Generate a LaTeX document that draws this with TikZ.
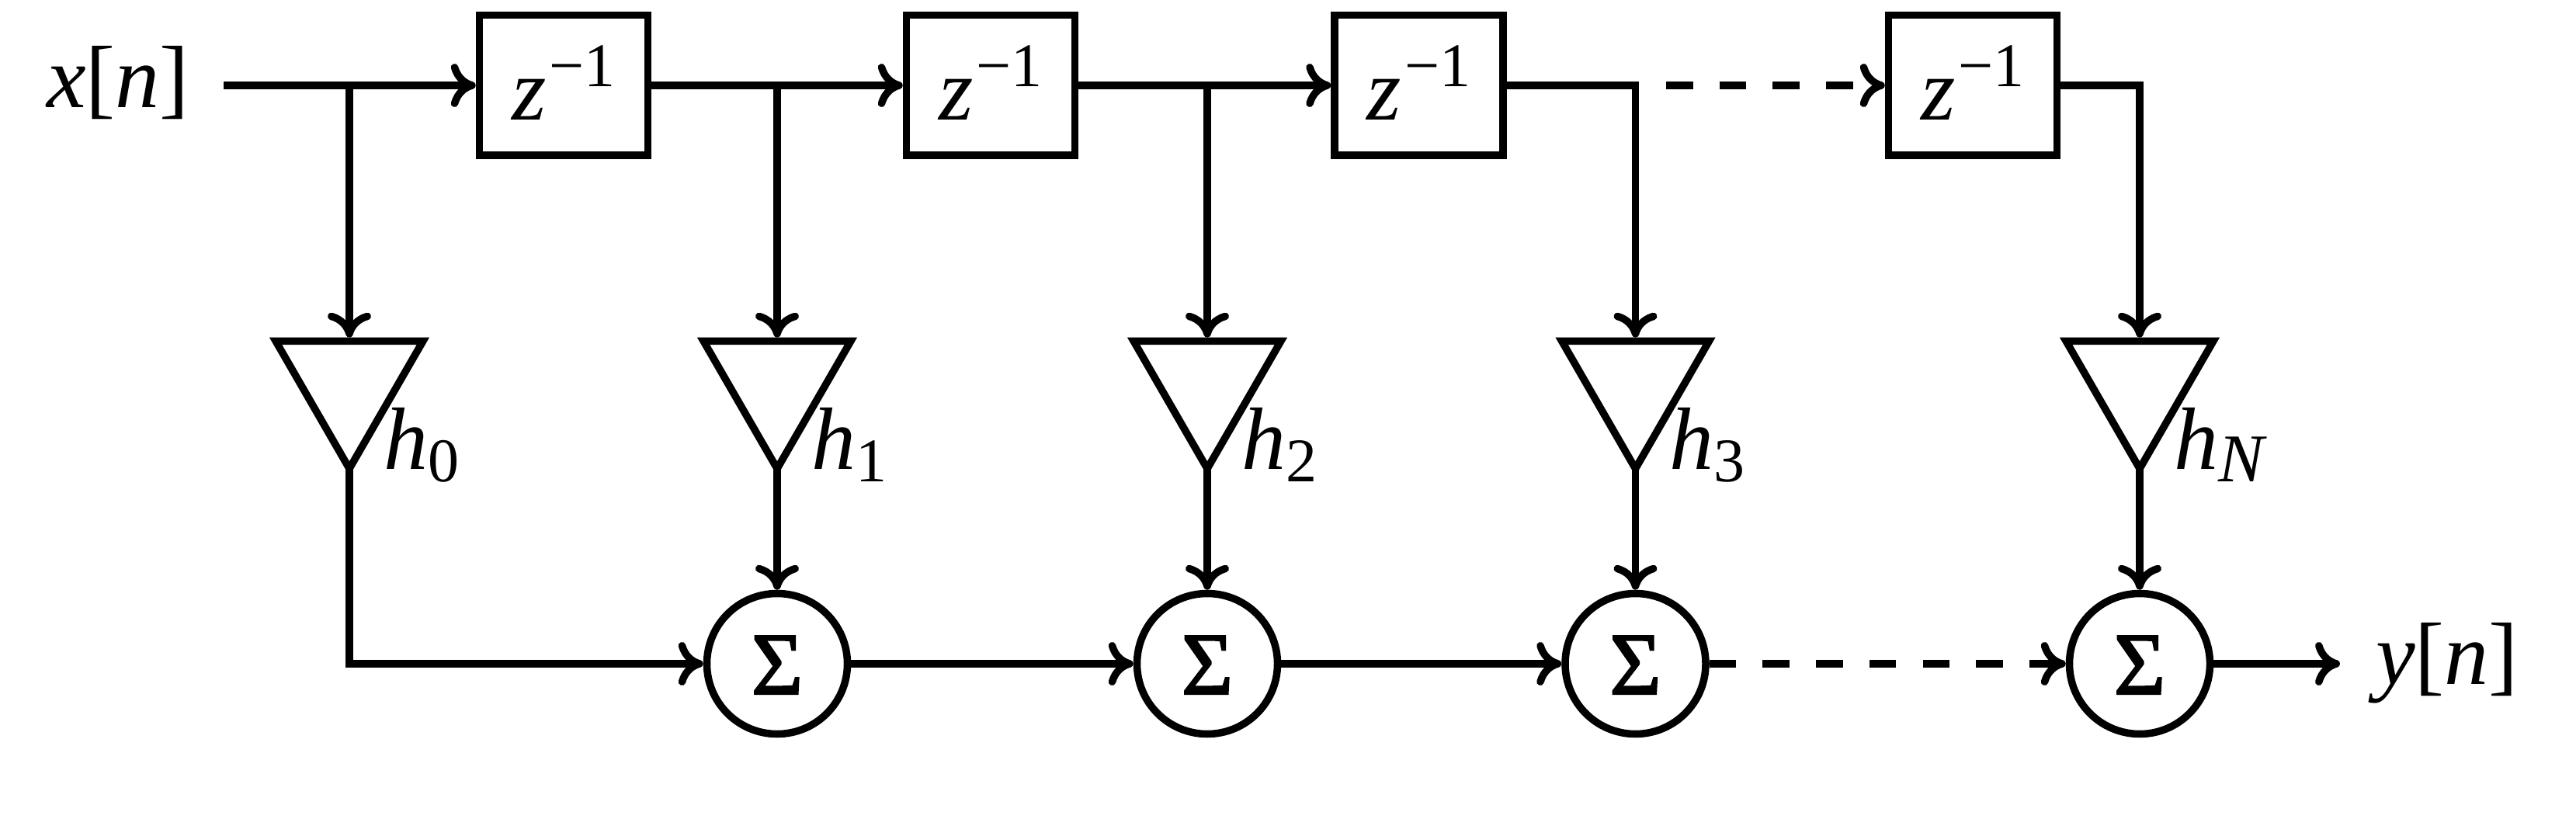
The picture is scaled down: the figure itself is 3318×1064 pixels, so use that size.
\documentclass[tikz,border=0pt]{standalone}
\usepackage{fontspec}
\setmainfont{Liberation Serif}
\usetikzlibrary{arrows.meta,shapes.geometric}
\newcommand{\bigf}{\fontsize{114}{120}\selectfont}
\newcommand{\smallf}{\fontsize{80}{90}\selectfont}
\newcommand{\zinv}{{\itshape z}\hspace{4pt}\raisebox{43pt}{\smallf −1}\hspace{9pt}}
\newcommand{\gainlabel}[1]{{\itshape h}\raisebox{-16pt}{\smallf #1}}
\newcommand{\sumsign}{\addfontfeature{FakeBold=2}Σ}
\tikzset{
  x=1pt,y=-1pt,
  sig/.style={line width=9.5pt,line join=miter,-{Computer Modern Rightarrow[length=32pt,width=56pt]}},
  fromapex/.style={sig,shorten <=-12pt},
  dash9/.style={sig,dash pattern=on 34.5pt off 34.2pt},
  delaybox/.style={draw,line width=9.5pt,minimum width=217pt,minimum height=180.5pt,inner sep=0pt,text height=90pt,text depth=0pt,font=\bigf},
  gain/.style={draw,line width=9.5pt,regular polygon,regular polygon sides=3,shape border rotate=180,minimum size=219pt,inner sep=0pt},
  summer/.style={draw,circle,line width=9.5pt,minimum size=181pt,inner sep=0pt,text height=78pt,text depth=0pt,font=\bigf},
  lab/.style={anchor=base west,inner sep=0pt,font=\bigf}
}
\begin{document}
\begin{tikzpicture}
\useasboundingbox (0,0) rectangle (3318,1064);
% delay boxes
\node[delaybox] (d1) at (726,110) {\zinv};
\node[delaybox] (d2) at (1276,110) {\zinv};
\node[delaybox] (d3) at (1827.5,110) {\zinv};
\node[delaybox] (d4) at (2541,110) {\zinv};
% gains
\node[gain] (g0) at (450,494.2) {};
\node[gain] (g1) at (1001,494.2) {};
\node[gain] (g2) at (1555,494.2) {};
\node[gain] (g3) at (2106.5,494.2) {};
\node[gain] (g4) at (2756,494.2) {};
% gain labels
\node[lab] (h0) at (494,604) {\gainlabel{0}};
\node[lab] (h1) at (1045,604) {\gainlabel{1}};
\node[lab] (h2) at (1599,604) {\gainlabel{2}};
\node[lab] (h3) at (2150.5,604) {\gainlabel{3}};
\node[lab] (h4) at (2800,604) {\gainlabel{\fontsize{88}{90}\selectfont\itshape N}};
% summers
\node[summer] (s1) at (1001,855) {\sumsign};
\node[summer] (s2) at (1555,855) {\sumsign};
\node[summer] (s3) at (2106.5,855) {\sumsign};
\node[summer] (s4) at (2756,855) {\sumsign};
% in/out labels
\node[lab] (xin) at (60,139) {{\itshape x}[{\itshape n}]};
\node[lab] (yout) at (3060,881) {{\itshape y}[{\itshape n}]};
% free ends and junctions
\coordinate (start) at (288,110);
\coordinate (j0) at (450,110);
\coordinate (j1) at (1001,110);
\coordinate (j2) at (1555,110);
\coordinate (j3) at (2106.5,110);
\coordinate (dstart) at (2146,110);
\coordinate (j4) at (2756,110);
\coordinate (b0) at (450,855);
\coordinate (out) at (3014,855);
% top chain
\draw[sig] (start) -- (d1.west);
\draw[sig] (d1.east) -- (d2.west);
\draw[sig] (d2.east) -- (d3.west);
\draw[dash9] (dstart) -- (d4.west);
% taps
\draw[sig] (j0) -- (g0.north);
\draw[sig] (j1) -- (g1.north);
\draw[sig] (j2) -- (g2.north);
\draw[sig] (d3.east) -- (j3) -- (g3.north);
\draw[sig] (d4.east) -- (j4) -- (g4.north);
% gain to summer
\draw[fromapex] (g0.corner 1) -- (b0) -- (s1.west);
\draw[fromapex] (g1.corner 1) -- (s1.north);
\draw[fromapex] (g2.corner 1) -- (s2.north);
\draw[fromapex] (g3.corner 1) -- (s3.north);
\draw[fromapex] (g4.corner 1) -- (s4.north);
% bottom chain
\draw[sig] (s1.east) -- (s2.west);
\draw[sig] (s2.east) -- (s3.west);
\draw[dash9] (s3.east) -- (s4.west);
\draw[sig] (s4.east) -- (out);
\end{tikzpicture}
\end{document}
